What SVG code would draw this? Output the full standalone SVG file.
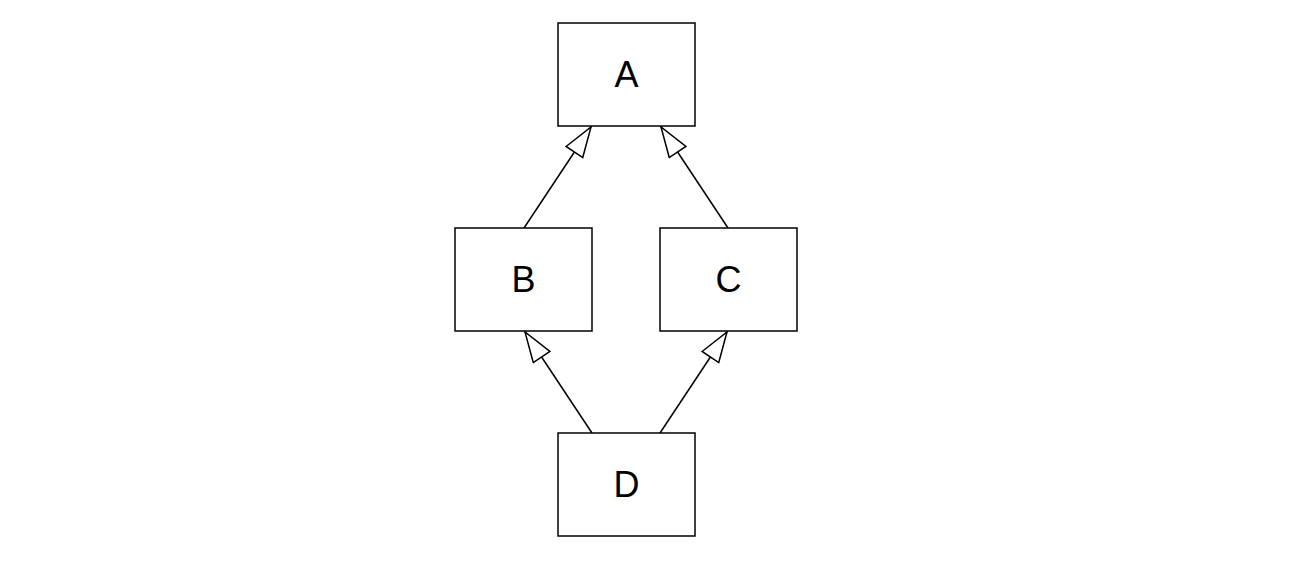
<svg xmlns="http://www.w3.org/2000/svg" width="1301" height="563" viewBox="0 0 1301 563">
<style>
.n{fill:#fff;stroke:#000;stroke-width:1.5}
.t{font-family:"Liberation Sans",Arial,sans-serif;font-size:36px;text-anchor:middle;fill:#000}
.e{stroke:#000;stroke-width:1.5;fill:none;marker-end:url(#tri)}
</style>
<defs>
<marker id="tri" markerUnits="userSpaceOnUse" markerWidth="34" markerHeight="24" refX="31" refY="11" orient="auto">
<path d="M1,1 L31,11 L1,21 Z" fill="#fff" stroke="#000" stroke-width="1.5"/>
</marker>
</defs>
<rect width="1301" height="563" fill="#fff"/>
<g id="connectors">
<path class="e" d="M524,228 L591,127"/>
<path class="e" d="M728,228 L661,127"/>
<path class="e" d="M592,433 L525,332"/>
<path class="e" d="M660,433 L727,332"/>
</g>
<g id="A"><rect class="n" x="558" y="23" width="137" height="103"/><text class="t" x="626.5" y="87">A</text></g>
<g id="B"><rect class="n" x="455" y="228" width="137" height="103"/><text class="t" x="523.5" y="292">B</text></g>
<g id="C"><rect class="n" x="660" y="228" width="137" height="103"/><text class="t" x="728.5" y="292">C</text></g>
<g id="D"><rect class="n" x="558" y="433" width="137" height="103"/><text class="t" x="626.5" y="497">D</text></g>
</svg>
